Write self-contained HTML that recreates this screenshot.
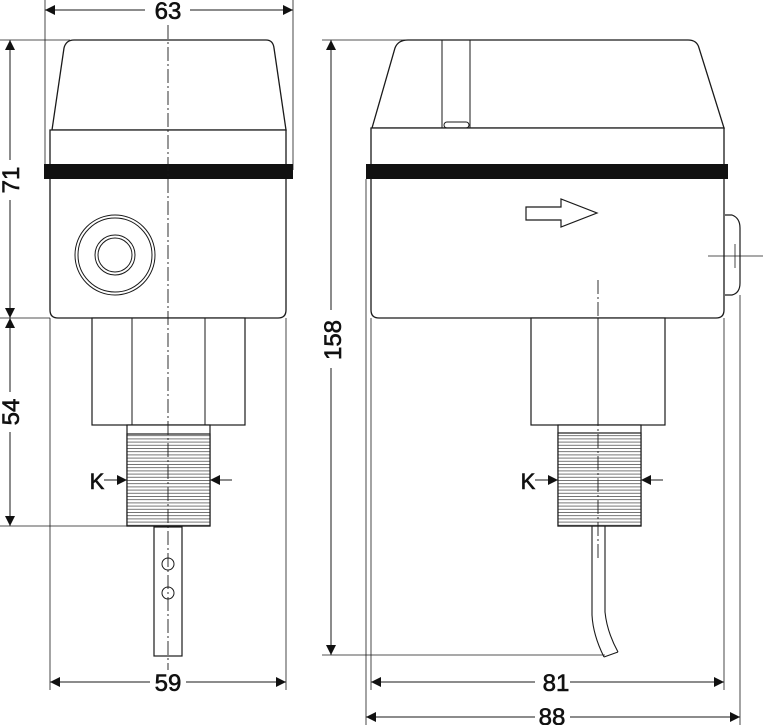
<!DOCTYPE html>
<html><head><meta charset="utf-8"><style>
html,body{margin:0;padding:0;background:#fff}
svg{display:block}
text{font-family:"Liberation Sans",sans-serif;font-size:24px;fill:#111;stroke:#111;stroke-width:0.6}
</style></head><body>
<svg width="763" height="725" viewBox="0 0 763 725" xmlns="http://www.w3.org/2000/svg">
<defs>
<marker id="a" viewBox="0 0 10 10" refX="10" refY="5" markerWidth="14" markerHeight="10" markerUnits="userSpaceOnUse" orient="auto-start-reverse"><path d="M0,0L10,5L0,10z" fill="#111"/></marker>
<pattern id="th" width="4" height="3.2" patternUnits="userSpaceOnUse"><rect width="4" height="3.2" fill="#fff"/><line x1="0" y1="0.5" x2="4" y2="0.5" stroke="#555" stroke-width="0.8"/></pattern>
</defs>
<g stroke="#1a1a1a" fill="none" stroke-width="1">
<line x1="45" y1="0" x2="45" y2="170" stroke-width="0.8"/>
<line x1="293" y1="0" x2="293" y2="170" stroke-width="0.8"/>
<line x1="0" y1="40" x2="70" y2="40" stroke-width="0.8"/>
<line x1="0" y1="318" x2="50" y2="318" stroke-width="0.8"/>
<line x1="0" y1="526" x2="127" y2="526" stroke-width="0.8"/>
<line x1="50" y1="318" x2="50" y2="690" stroke-width="0.8"/>
<line x1="286" y1="318" x2="286" y2="690" stroke-width="0.8"/>
<path d="M52,130 L64,48 Q66,40 74,40 L266,40 Q273,40 274,48 L286,130 Z" fill="#fff" stroke-width="1.3"/>
<path d="M50,130 L286,130 L286,310 Q286,318 278,318 L58,318 Q50,318 50,310 Z" fill="#fff" stroke-width="1.3"/>
<rect x="44" y="164" width="249" height="15" fill="#111" stroke="none"/>
<circle cx="115" cy="255" r="40"/><circle cx="115" cy="255" r="37"/>
<circle cx="115" cy="255" r="20"/><circle cx="115" cy="255" r="17"/>
<rect x="92" y="318" width="153" height="107" fill="#fff" stroke-width="1.2"/>
<line x1="132" y1="318" x2="132" y2="425"/><line x1="205" y1="318" x2="205" y2="425"/>
<rect x="127" y="425" width="83" height="101" fill="#fff" stroke-width="1.2"/>
<rect x="127" y="434" width="83" height="92" fill="url(#th)" stroke-width="1.2"/>
<rect x="154" y="527" width="28" height="129" fill="#fff" stroke-width="1.2"/>
<circle cx="168" cy="564" r="6"/><circle cx="168" cy="593" r="6"/>
<line x1="168" y1="25" x2="168" y2="670" stroke-dasharray="14,3,2,3" stroke-width="0.9"/>
<line x1="45" y1="10" x2="145" y2="10" marker-start="url(#a)"/>
<line x1="190" y1="10" x2="293" y2="10" marker-end="url(#a)"/>
<line x1="10" y1="40" x2="10" y2="160" marker-start="url(#a)"/>
<line x1="10" y1="200" x2="10" y2="318" marker-end="url(#a)"/>
<line x1="10" y1="318" x2="10" y2="392" marker-start="url(#a)"/>
<line x1="10" y1="432" x2="10" y2="526" marker-end="url(#a)"/>
<line x1="50" y1="682" x2="150" y2="682" marker-start="url(#a)"/>
<line x1="186" y1="682" x2="286" y2="682" marker-end="url(#a)"/>
<line x1="104" y1="480" x2="127" y2="480" marker-end="url(#a)"/>
<line x1="232" y1="480" x2="210" y2="480" marker-end="url(#a)"/>

<line x1="322" y1="40" x2="410" y2="40" stroke-width="0.8"/>
<line x1="322" y1="655" x2="605" y2="655" stroke-width="0.8"/>
<line x1="366" y1="179" x2="366" y2="725" stroke-width="0.8"/>
<line x1="371" y1="318" x2="371" y2="690" stroke-width="0.8"/>
<line x1="724" y1="318" x2="724" y2="690" stroke-width="0.8"/>
<line x1="740" y1="295" x2="740" y2="725" stroke-width="0.8"/>
<path d="M372,128 L395,48 Q398,40 408,40 L688,40 Q697,40 699,48 L724,128 Z" fill="#fff" stroke-width="1.3"/>
<line x1="442" y1="40" x2="442" y2="128"/><line x1="470" y1="40" x2="470" y2="128"/>
<rect x="444" y="122" width="25" height="6" rx="3"/>
<path d="M371,128 L724,128 L724,310 Q724,318 716,318 L379,318 Q371,318 371,310 Z" fill="#fff" stroke-width="1.3"/>
<rect x="366" y="164" width="362" height="15" fill="#111" stroke="none"/>
<path d="M526,207 L561,207 L561,199 L597,213 L561,227 L561,220 L526,220 Z" fill="#fff" stroke-width="1.2"/>
<path d="M725,215 L732,215 Q740,218 740,228 L740,283 Q740,293 732,295 L725,295" fill="#fff" stroke-width="1.2"/>
<line x1="708" y1="256" x2="763" y2="256" stroke-width="0.8"/>
<line x1="735" y1="244" x2="735" y2="268" stroke-width="0.8"/>
<rect x="531" y="318" width="134" height="107" fill="#fff" stroke-width="1.2"/>
<line x1="598" y1="318" x2="598" y2="425"/>
<rect x="558" y="425" width="83" height="101" fill="#fff" stroke-width="1.2"/>
<rect x="558" y="433" width="83" height="93" fill="url(#th)" stroke-width="1.2"/>
<path d="M592,526 L592,615 Q593,635 604,657 M605,526 L605,612 Q607,632 618,652 M604,657 L618,652" stroke-width="1.1"/>
<line x1="598" y1="280" x2="598" y2="560" stroke-dasharray="14,3,2,3" stroke-width="0.9"/>
<line x1="331" y1="40" x2="331" y2="310" marker-start="url(#a)"/>
<line x1="331" y1="368" x2="331" y2="655" marker-end="url(#a)"/>
<line x1="371" y1="682" x2="535" y2="682" marker-start="url(#a)"/>
<line x1="570" y1="682" x2="724" y2="682" marker-end="url(#a)"/>
<line x1="366" y1="717" x2="535" y2="717" marker-start="url(#a)"/>
<line x1="570" y1="717" x2="740" y2="717" marker-end="url(#a)"/>
<line x1="535" y1="480" x2="558" y2="480" marker-end="url(#a)"/>
<line x1="663" y1="480" x2="641" y2="480" marker-end="url(#a)"/>
</g>
<text x="168" y="19" text-anchor="middle">63</text>
<text transform="translate(19,180) rotate(-90)" text-anchor="middle">71</text>
<text transform="translate(19,412) rotate(-90)" text-anchor="middle">54</text>
<text x="168" y="691" text-anchor="middle">59</text>
<text x="97" y="489" text-anchor="middle" style="font-size:22px">K</text>
<text transform="translate(341,340) rotate(-90)" text-anchor="middle">158</text>
<text x="556" y="691" text-anchor="middle">81</text>
<text x="552" y="725" text-anchor="middle">88</text>
<text x="528" y="489" text-anchor="middle" style="font-size:22px">K</text>
</svg>
</body></html>
